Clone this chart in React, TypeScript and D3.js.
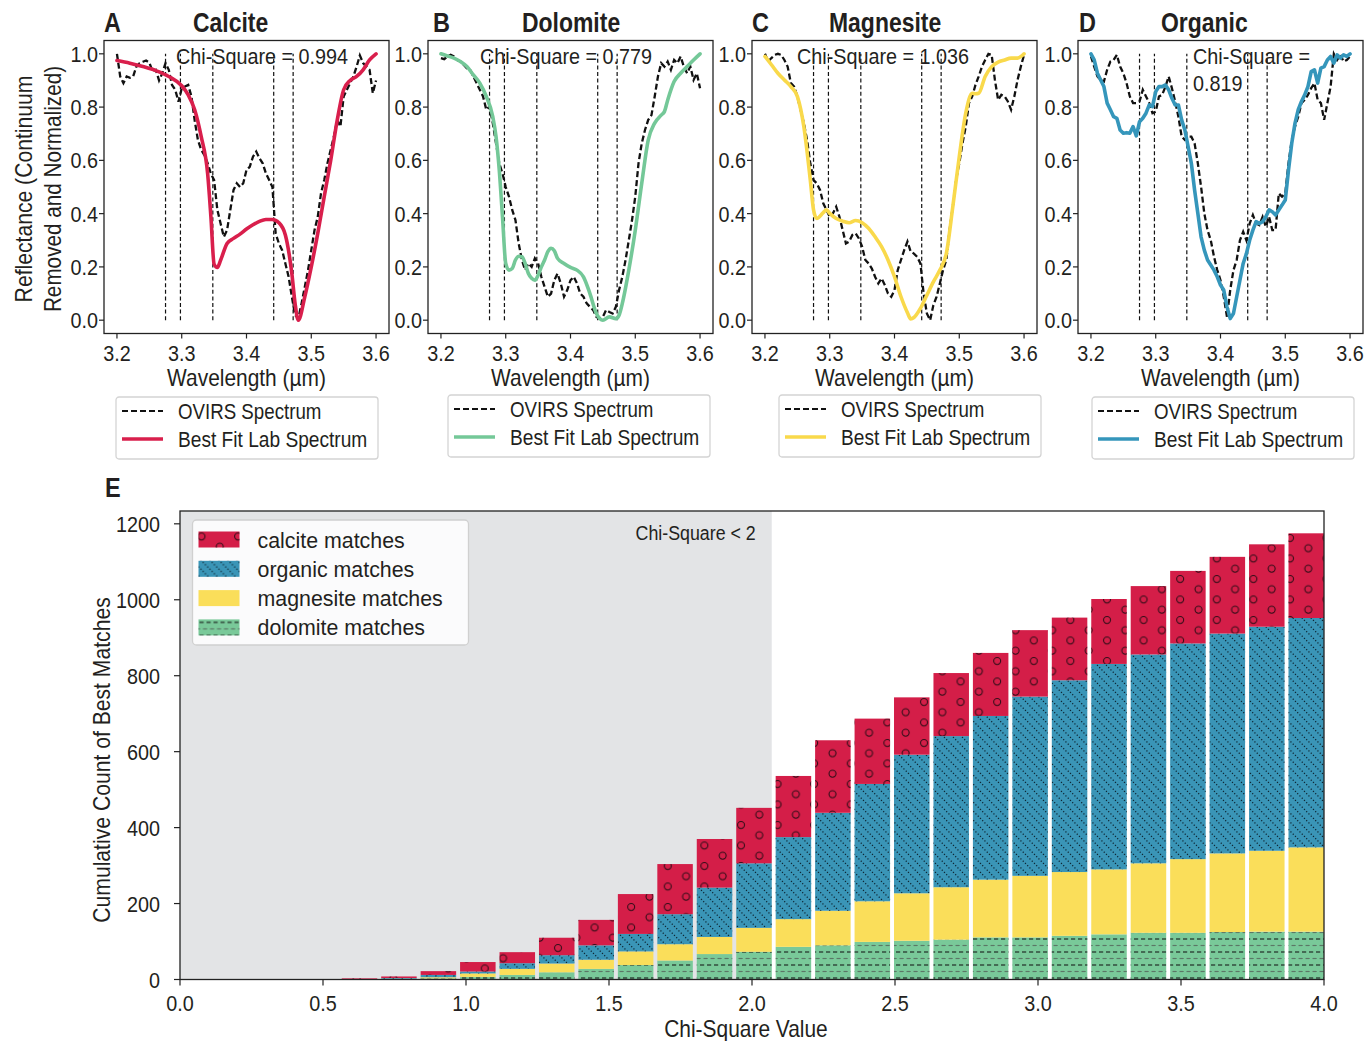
import React from 'react';
import * as d3 from 'd3';

// ---------------- DATA ----------------
// OVIRS spectra sampled every 0.005 µm from 3.200 to 3.600
const OVIRS_WL = d3.range(0, 81).map((i) => 3.2 + i * 0.005);

const calciteOvirs = [
  1.0, 0.915, 0.89, 0.915, 0.91, 0.915, 0.952, 0.965, 0.97, 0.975,
  0.967, 0.934, 0.94, 0.9, 0.927, 0.965, 0.94, 0.883, 0.865, 0.82,
  0.87, 0.877, 0.883, 0.84, 0.75, 0.676, 0.64, 0.62, 0.59, 0.55,
  0.526, 0.414, 0.363, 0.313, 0.338, 0.414, 0.489, 0.514, 0.5, 0.514,
  0.564, 0.576, 0.614, 0.633, 0.608, 0.589, 0.551, 0.526, 0.5, 0.326,
  0.288, 0.263, 0.213, 0.163, 0.088, 0.019, 0.006, 0.063, 0.125, 0.188,
  0.263, 0.338, 0.388, 0.476, 0.526, 0.589, 0.64, 0.69, 0.752, 0.727,
  0.84, 0.865, 0.89, 0.915, 0.952, 0.994, 0.965, 0.952, 0.94, 0.852, 0.9,
];
const dolomiteOvirs = [
  0.984, 0.98, 0.99, 0.996, 0.99, 0.977, 0.971, 0.959, 0.946, 0.94,
  0.915, 0.89, 0.865, 0.84, 0.79, 0.802, 0.74, 0.664, 0.589, 0.551,
  0.5, 0.464, 0.414, 0.376, 0.288, 0.226, 0.188, 0.213, 0.2, 0.232,
  0.213, 0.163, 0.125, 0.088, 0.1, 0.15, 0.175, 0.138, 0.088, 0.113,
  0.15, 0.163, 0.138, 0.1, 0.088, 0.063, 0.05, 0.038, 0.0125, 0.006,
  0.0125, 0.038, 0.031, 0.025, 0.05, 0.113, 0.163, 0.226, 0.3, 0.376,
  0.464, 0.589, 0.664, 0.714, 0.752, 0.77, 0.84, 0.915, 0.965, 0.952,
  0.971, 0.94, 0.977, 0.965, 0.99, 0.952, 0.927, 0.952, 0.902, 0.927, 0.871,
];
const magnesiteOvirs = [
  1.0, 0.971, 0.984, 0.996, 1.0, 0.996, 0.977, 0.952, 0.89, 0.877,
  0.84, 0.79, 0.74, 0.677, 0.589, 0.526, 0.514, 0.489, 0.439, 0.414,
  0.388, 0.401, 0.426, 0.388, 0.338, 0.288, 0.295, 0.32, 0.326, 0.307,
  0.276, 0.226, 0.213, 0.194, 0.163, 0.138, 0.157, 0.132, 0.1, 0.088,
  0.113, 0.188, 0.226, 0.263, 0.295, 0.257, 0.25, 0.238, 0.213, 0.1,
  0.025, 0.0, 0.056, 0.088, 0.138, 0.188, 0.226, 0.338, 0.426, 0.526,
  0.589, 0.664, 0.727, 0.815, 0.84, 0.883, 0.915, 0.952, 0.977, 1.0,
  0.996, 0.902, 0.827, 0.846, 0.84, 0.821, 0.79, 0.84, 0.902, 0.952, 0.996,
];
const organicOvirs = [
  0.99, 0.952, 0.915, 0.902, 0.896, 0.94, 0.971, 0.977, 0.996, 0.952,
  0.927, 0.89, 0.84, 0.815, 0.815, 0.821, 0.865, 0.84, 0.815, 0.777,
  0.783, 0.84, 0.846, 0.877, 0.915, 0.871, 0.821, 0.764, 0.689, 0.677,
  0.689, 0.689, 0.664, 0.589, 0.501, 0.401, 0.338, 0.3, 0.238, 0.188,
  0.15, 0.088, 0.0125, 0.113, 0.188, 0.226, 0.3, 0.332, 0.3, 0.363,
  0.395, 0.363, 0.357, 0.388, 0.351, 0.388, 0.338, 0.338, 0.476, 0.464,
  0.476, 0.589, 0.676, 0.727, 0.764, 0.815, 0.827, 0.846, 0.871, 0.89,
  0.827, 0.815, 0.752, 0.815, 0.877, 1.0, 0.977, 0.996, 0.971, 0.977, 0.99,
];

// Best-fit lab spectra
const calciteFitWl = [
  3.2, 3.22, 3.24, 3.26, 3.28, 3.3, 3.31, 3.32, 3.33, 3.34, 3.345, 3.35, 3.355, 3.36,
  3.37, 3.38, 3.39, 3.4, 3.41, 3.42, 3.43, 3.44, 3.45, 3.46, 3.47, 3.475, 3.48, 3.49,
  3.5, 3.51, 3.52, 3.53, 3.54, 3.55, 3.56, 3.57, 3.58, 3.59, 3.6,
];
const calciteFit = [
  0.975, 0.965, 0.952, 0.937, 0.915, 0.88, 0.846, 0.79, 0.69, 0.55, 0.39, 0.21, 0.198, 0.225,
  0.288, 0.307, 0.323, 0.342, 0.358, 0.371, 0.378, 0.378, 0.366, 0.32, 0.175, 0.063, 0.0, 0.088,
  0.2, 0.326, 0.464, 0.6, 0.75, 0.865, 0.9, 0.915, 0.94, 0.977, 1.0,
];
const dolomiteFitWl = [
  3.2, 3.21, 3.22, 3.23, 3.24, 3.25, 3.26, 3.27, 3.28, 3.285, 3.29, 3.295, 3.3, 3.305,
  3.31, 3.315, 3.32, 3.325, 3.33, 3.335, 3.34, 3.345, 3.35, 3.355, 3.36, 3.365, 3.37, 3.375,
  3.38, 3.39, 3.4, 3.41, 3.42, 3.43, 3.44, 3.45, 3.46, 3.47, 3.475, 3.48, 3.49, 3.5,
  3.51, 3.52, 3.53, 3.54, 3.545, 3.55, 3.56, 3.57, 3.58, 3.59, 3.6,
];
const dolomiteFit = [
  1.0, 0.992, 0.984, 0.971, 0.952, 0.921, 0.89, 0.84, 0.764, 0.69, 0.564, 0.388, 0.213, 0.188,
  0.194, 0.226, 0.24, 0.238, 0.213, 0.175, 0.157, 0.15, 0.169, 0.2, 0.226, 0.257, 0.27, 0.261,
  0.232, 0.213, 0.198, 0.188, 0.163, 0.1, 0.025, 0.0, 0.0125, 0.006, 0.019, 0.063, 0.188, 0.338,
  0.514, 0.676, 0.74, 0.77, 0.783, 0.826, 0.896, 0.927, 0.952, 0.977, 1.0,
];
const magnesiteFitWl = [
  3.2, 3.21, 3.22, 3.23, 3.24, 3.25, 3.26, 3.27, 3.275, 3.28, 3.29, 3.295, 3.3, 3.31,
  3.32, 3.33, 3.34, 3.35, 3.36, 3.37, 3.38, 3.39, 3.4, 3.41, 3.42, 3.425, 3.43, 3.44,
  3.45, 3.46, 3.47, 3.48, 3.49, 3.5, 3.51, 3.52, 3.525, 3.53, 3.54, 3.55, 3.56, 3.57,
  3.58, 3.59, 3.6,
];
const magnesiteFit = [
  0.99, 0.959, 0.927, 0.902, 0.877, 0.84, 0.727, 0.526, 0.414, 0.382, 0.404, 0.414, 0.401, 0.382,
  0.372, 0.366, 0.374, 0.366, 0.345, 0.313, 0.276, 0.226, 0.163, 0.088, 0.028, 0.005, 0.01, 0.044,
  0.094, 0.144, 0.188, 0.25, 0.426, 0.614, 0.777, 0.852, 0.85, 0.852, 0.915, 0.952, 0.969, 0.977,
  0.984, 0.984, 1.0,
];
const organicFit = [
  1.0, 0.977, 0.927, 0.902, 0.877, 0.815, 0.79, 0.764, 0.758, 0.714,
  0.702, 0.704, 0.702, 0.727, 0.692, 0.745, 0.758, 0.777, 0.808, 0.802,
  0.858, 0.877, 0.877, 0.883, 0.865, 0.833, 0.808, 0.808, 0.752, 0.714,
  0.652, 0.589, 0.489, 0.401, 0.313, 0.263, 0.226, 0.207, 0.188, 0.163,
  0.132, 0.113, 0.05, 0.006, 0.025, 0.088, 0.15, 0.213, 0.25, 0.3,
  0.338, 0.37, 0.363, 0.37, 0.388, 0.414, 0.407, 0.395, 0.414, 0.432,
  0.451, 0.564, 0.664, 0.739, 0.79, 0.821, 0.846, 0.877, 0.933, 0.94,
  0.89, 0.946, 0.952, 0.977, 0.99, 0.965, 0.996, 0.984, 0.996, 0.99, 1.0,
];

const BAND_LINES = [3.275, 3.298, 3.348, 3.442, 3.472];
const SPEC_X_TICKS = [3.2, 3.3, 3.4, 3.5, 3.6];
const SPEC_Y_TICKS = [0, 0.2, 0.4, 0.6, 0.8, 1.0];

// Panel E: cumulative best-match counts per chi-square bin (29 bins over 0–4)
const BIN_COUNT = 29;
const dolomiteCounts = [0, 0, 0, 0, 0, 1, 3, 7, 12, 19, 28, 38, 50, 67, 73, 86, 90, 99, 102, 105, 111, 111, 115, 119, 123, 123, 125, 126, 126];
const magnesiteCounts = [0, 0, 0, 0, 0, 1, 3, 9, 16, 23, 24, 36, 43, 45, 63, 73, 91, 107, 125, 138, 152, 162, 168, 171, 183, 194, 207, 213, 222];
const organicCounts = [0, 0, 0, 0, 1, 2, 6, 5, 15, 22, 38, 46, 79, 130, 170, 216, 258, 309, 365, 398, 431, 472, 505, 541, 550, 568, 579, 590, 604];
const calciteCounts = [0, 0, 0, 0, 2, 4, 10, 25, 29, 46, 67, 105, 132, 128, 146, 161, 191, 172, 151, 166, 166, 175, 165, 171, 180, 191, 202, 217, 223];
const E_X_TICKS = [0, 0.5, 1, 1.5, 2, 2.5, 3, 3.5, 4];
const E_Y_TICKS = [0, 200, 400, 600, 800, 1000, 1200];
const CHI_LIMIT_BIN = 15;

// ---------------- STYLE / LAYOUT ----------------
const FONT = "'Liberation Sans',Arial,Helvetica,sans-serif";
const TXT = '#231f20';
const COL = {
  calcite: '#D41E48',
  organic: '#3A95B7',
  magnesite: '#FADE5A',
  dolomite: '#79C999',
};

const PW = 285;
const PT = 40.5;
const PB = 333.5;

// horizontally condensed text (mimics a condensed sans)
function T({ x, y, size, sx = 0.9, anchor = 'start', rot = 0, bold = false, children }: any) {
  return (
    <text
      transform={`translate(${x},${y}) rotate(${rot}) scale(${sx},1)`}
      fontSize={size}
      textAnchor={anchor}
      fontWeight={bold ? 'bold' : 'normal'}
      fill={TXT}
    >
      {children}
    </text>
  );
}

const PANELS = [
  { letter: 'A', name: 'Calcite', left: 104, letterX: 104, titleX: 193, color: '#D91F4C', fitWl: calciteFitWl, fit: calciteFit, ovirs: calciteOvirs, chi: ['Chi-Square = 0.994'], chiX: 176, legX: 116, legY: 397, curve: 'smooth' },
  { letter: 'B', name: 'Dolomite', left: 428, letterX: 433, titleX: 522, color: '#74C898', fitWl: dolomiteFitWl, fit: dolomiteFit, ovirs: dolomiteOvirs, chi: ['Chi-Square = 0.779'], chiX: 480, legX: 448, legY: 395, curve: 'smooth' },
  { letter: 'C', name: 'Magnesite', left: 752, letterX: 752, titleX: 829, color: '#F9D94B', fitWl: magnesiteFitWl, fit: magnesiteFit, ovirs: magnesiteOvirs, chi: ['Chi-Square = 1.036'], chiX: 797, legX: 779, legY: 395, curve: 'smooth' },
  { letter: 'D', name: 'Organic', left: 1078, letterX: 1079, titleX: 1161, color: '#3596BB', fitWl: OVIRS_WL, fit: organicFit, ovirs: organicOvirs, chi: ['Chi-Square =', '0.819'], chiX: 1193, legX: 1092, legY: 397, curve: 'linear' },
];

function SpectrumPanel({ p }: { p: any }) {
  const x = d3.scaleLinear().domain([3.18, 3.62]).range([p.left, p.left + PW]);
  const y = d3.scaleLinear().domain([-0.05, 1.05]).range([PB, PT]);
  const ovLine = d3
    .line<number>()
    .x((_, i) => x(OVIRS_WL[i]))
    .y((d) => y(d));
  const fitLine = d3
    .line<number>()
    .x((_, i) => x(p.fitWl[i]))
    .y((d) => y(d))
    .curve(p.curve === 'smooth' ? d3.curveMonotoneX : d3.curveLinear);
  const cx = p.left + PW / 2;
  return (
    <g>
      <rect x={p.left} y={PT} width={PW} height={PB - PT} fill="#fff" />
      {BAND_LINES.map((b) => (
        <line key={b} x1={x(b)} x2={x(b)} y1={y(0)} y2={y(1)} stroke="#111" strokeWidth={1.2} strokeDasharray="4,2.6" />
      ))}
      <path d={ovLine(p.ovirs) || ''} fill="none" stroke="#111" strokeWidth={2.3} strokeDasharray="6,3" />
      <path d={fitLine(p.fit) || ''} fill="none" stroke={p.color} strokeWidth={3.6} strokeLinejoin="round" strokeLinecap="round" />
      {p.chi.map((t: string, i: number) => (
        <T key={i} x={p.chiX} y={64 + i * 27} size={22} sx={0.9}>{t}</T>
      ))}
      <rect x={p.left} y={PT} width={PW} height={PB - PT} fill="none" stroke="#222" strokeWidth={1.3} />
      {SPEC_Y_TICKS.map((t) => (
        <g key={t}>
          <line x1={p.left - 5} x2={p.left} y1={y(t)} y2={y(t)} stroke="#222" strokeWidth={1.2} />
          <T x={p.left - 6} y={y(t) + 8} size={22} sx={0.9} anchor="end">{t.toFixed(1)}</T>
        </g>
      ))}
      {SPEC_X_TICKS.map((t) => (
        <g key={t}>
          <line x1={x(t)} x2={x(t)} y1={PB} y2={PB + 5} stroke="#222" strokeWidth={1.2} />
          <T x={x(t)} y={PB + 27} size={22} sx={0.9} anchor="middle">{t.toFixed(1)}</T>
        </g>
      ))}
      <T x={cx} y={386} size={23} sx={0.91} anchor="middle">Wavelength (µm)</T>
      <T x={p.letterX} y={32} size={27} sx={0.87} bold>{p.letter}</T>
      <T x={p.titleX} y={32} size={27} sx={0.85} bold>{p.name}</T>
      {/* legend */}
      <g transform={`translate(${p.legX},${p.legY})`}>
        <rect x={0} y={0} width={262} height={62} rx={3} fill="#fff" stroke="#d4d4d4" strokeWidth={1.3} />
        <line x1={6} x2={47} y1={14} y2={14} stroke="#111" strokeWidth={2} strokeDasharray="6,3" />
        <T x={62} y={22} size={21.5} sx={0.87}>OVIRS Spectrum</T>
        <line x1={6} x2={47} y1={42} y2={42} stroke={p.color} strokeWidth={3.6} />
        <T x={62} y={50} size={21.5} sx={0.89}>Best Fit Lab Spectrum</T>
      </g>
    </g>
  );
}

function CumulativeChart() {
  const left = 180;
  const right = 1324;
  const top = 511;
  const bottom = 979.5;
  const binW = 4 / BIN_COUNT;
  const edges = d3.range(1, BIN_COUNT + 1).map((i) => i * binW);
  const rows = edges.map((e, i) => ({
    edge: e,
    dolomite: dolomiteCounts[i],
    magnesite: magnesiteCounts[i],
    organic: organicCounts[i],
    calcite: calciteCounts[i],
  }));
  const keys = ['dolomite', 'magnesite', 'organic', 'calcite'];
  const series = d3.stack<any>().keys(keys)(rows);
  const maxTotal = d3.max(rows, (r) => r.dolomite + r.magnesite + r.organic + r.calcite) || 0;
  const x = d3.scaleLinear().domain([0, 4]).range([left, right]);
  const y = d3.scaleLinear().domain([0, maxTotal * 1.05]).range([bottom, top]);
  const hatch: Record<string, string | null> = {
    calcite: 'url(#hCal)',
    organic: 'url(#hOrg)',
    magnesite: null,
    dolomite: 'url(#hDol)',
  };
  const legendItems = [
    ['calcite', 'calcite matches'],
    ['organic', 'organic matches'],
    ['magnesite', 'magnesite matches'],
    ['dolomite', 'dolomite matches'],
  ];
  const limitX = x(CHI_LIMIT_BIN * binW);
  return (
    <g>
      <defs>
        <pattern id="hCal" patternUnits="userSpaceOnUse" width={36.6} height={20.5}>
          <circle cx={9} cy={5} r={3.5} fill="none" stroke="#2e0c16" strokeWidth={1.1} />
          <circle cx={27.3} cy={15.25} r={3.5} fill="none" stroke="#2e0c16" strokeWidth={1.1} />
        </pattern>
        <pattern id="hOrg" patternUnits="userSpaceOnUse" width={9} height={9}>
          <path d="M-1,-1 L10,10 M-5.5,3.5 L1,10 M3.5,-5.5 L10,1" stroke="#0d2533" strokeWidth={1.3} strokeDasharray="1.2,2" fill="none" />
        </pattern>
        <pattern id="hDol" patternUnits="userSpaceOnUse" width={7} height={13}>
          <line x1={0} x2={4.2} y1={3} y2={3} stroke="#1f2b24" strokeWidth={1.2} />
          <line x1={3.5} x2={7} y1={9.5} y2={9.5} stroke="#5b7766" strokeWidth={1.2} />
          <line x1={0} x2={0.7} y1={9.5} y2={9.5} stroke="#5b7766" strokeWidth={1.2} />
        </pattern>
      </defs>
      <rect x={left} y={top} width={right - left} height={bottom - top} fill="#fff" />
      <rect x={left} y={top} width={limitX - left} height={bottom - top} fill="#E3E4E6" />
      <T x={limitX - 16} y={540} size={20} sx={0.89} anchor="end">Chi-Square &lt; 2</T>
      {series.map((s) => (
        <g key={s.key}>
          {s.map((d, i) => {
            const h = y(d[0]) - y(d[1]);
            if (h <= 0) return null;
            const bx = x(d.data.edge - binW * 0.9);
            const bw = x(d.data.edge) - bx;
            return (
              <g key={i}>
                <rect x={bx} y={y(d[1])} width={bw} height={h} fill={(COL as any)[s.key]} />
                {hatch[s.key] && <rect x={bx} y={y(d[1])} width={bw} height={h} fill={hatch[s.key] as string} />}
              </g>
            );
          })}
        </g>
      ))}
      <rect x={left} y={top} width={right - left} height={bottom - top} fill="none" stroke="#222" strokeWidth={1.3} />
      {E_Y_TICKS.map((t) => (
        <g key={t}>
          <line x1={left - 6} x2={left} y1={y(t)} y2={y(t)} stroke="#222" strokeWidth={1.2} />
          <T x={left - 20} y={y(t) + 8} size={22} sx={0.9} anchor="end">{t}</T>
        </g>
      ))}
      {E_X_TICKS.map((t) => (
        <g key={t}>
          <line x1={x(t)} x2={x(t)} y1={bottom} y2={bottom + 6} stroke="#222" strokeWidth={1.2} />
          <T x={x(t)} y={1011} size={22} sx={0.9} anchor="middle">{t.toFixed(1)}</T>
        </g>
      ))}
      <T x={746} y={1037} size={23} sx={0.91} anchor="middle">Chi-Square Value</T>
      <T x={110} y={760} size={23} sx={0.92} anchor="middle" rot={-90}>Cumulative Count of Best Matches</T>
      <T x={105} y={497} size={27} sx={0.87} bold>E</T>
      {/* legend */}
      <g transform="translate(192.5,520)">
        <rect x={0} y={0} width={276} height={125} rx={4} fill="#fff" fillOpacity={0.85} stroke="#d0d0d0" strokeWidth={1.3} />
        {legendItems.map(([k, label], i) => (
          <g key={k} transform={`translate(0,${11.5 + i * 29.3})`}>
            <rect x={6} y={0} width={41} height={16} fill={(COL as any)[k]} />
            {hatch[k] && <rect x={6} y={0} width={41} height={16} fill={hatch[k] as string} />}
            <T x={65} y={16} size={22.5} sx={0.95}>{label}</T>
          </g>
        ))}
      </g>
    </g>
  );
}

export default function App() {
  return (
    <svg
      width={1367}
      height={1041}
      viewBox="0 0 1367 1041"
      style={{ position: 'absolute', left: 0, top: 0, background: '#fff', fontFamily: FONT }}
    >
      <rect x={0} y={0} width={1367} height={1041} fill="#fff" />
      {PANELS.map((p) => (
        <SpectrumPanel key={p.letter} p={p} />
      ))}
      <T x={32} y={189} size={23} sx={0.92} anchor="middle" rot={-90}>Reflectance (Continuum</T>
      <T x={61} y={189} size={23} sx={0.9} anchor="middle" rot={-90}>Removed and Normalized)</T>
      <CumulativeChart />
    </svg>
  );
}
